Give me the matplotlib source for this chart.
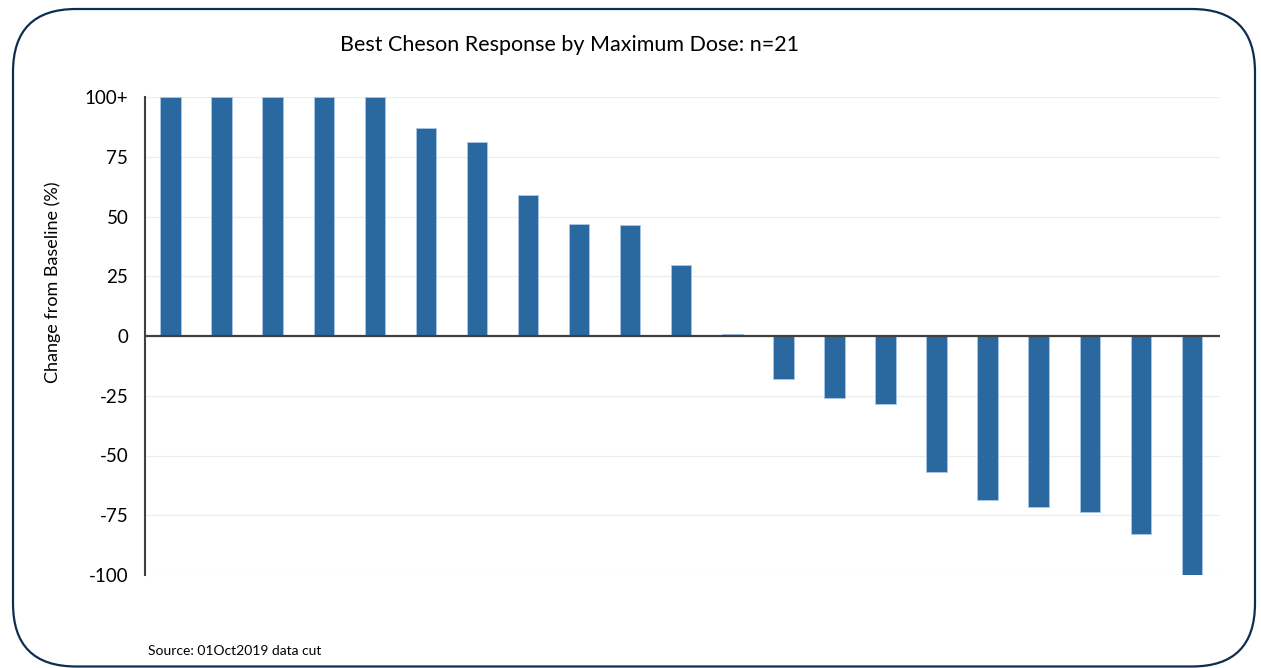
import matplotlib
matplotlib.use("Agg")
import matplotlib.pyplot as plt
from matplotlib.patches import FancyBboxPatch
import numpy as np

plt.rcParams['font.family'] = ['Lato', 'DejaVu Sans']

# best change from baseline per patient (capped at 100)
patients = list(range(1, 22))
change = [100, 100, 100, 100, 100, 87, 81, 59, 47, 46.5, 29.5, 1,
          -18, -26, -28.5, -57, -68.5, -71.5, -73.5, -83, -100]
yticks = [-100, -75, -50, -25, 0, 25, 50, 75, 100]
ytick_labels = ['-100', '-75', '-50', '-25', '0', '25', '50', '75', '100+']

title = 'Best Cheson Response by Maximum Dose: n=21'
ylabel = 'Change from Baseline (%)'
source = 'Source: 01Oct2019 data cut'

bar_color = '#2A69A0'
edge_color = '#A9C8E8'

fig = plt.figure(figsize=(12.61, 6.68), dpi=100)

# rounded frame around the whole chart
frame = FancyBboxPatch((13 / 1261, 1.5 / 668), 1242 / 1261, 657.5 / 668,
                       boxstyle='round,pad=0,rounding_size=0.05',
                       transform=fig.transFigure, fill=False,
                       edgecolor='#0E2E50', linewidth=1.6,
                       mutation_aspect=1261 / 668)
fig.patches.append(frame)

ax = fig.add_axes([145 / 1261, 93 / 668, 1075 / 1261, 478 / 668])
x = np.arange(len(patients))
ax.bar(x, change, width=0.4, color=bar_color, edgecolor=edge_color,
       linewidth=0.6, zorder=3)

ax.set_xlim(-0.5, len(patients) - 0.45)
ax.set_ylim(-100, 100)
ax.set_yticks(yticks)
ax.set_yticklabels(ytick_labels, fontsize=13.5)
ax.set_xticks([])
ax.grid(axis='y', color='#EDEDED', linewidth=0.9, zorder=0)
ax.axhline(0, color='#404040', linewidth=1.6, zorder=4)

for side in ['top', 'right', 'bottom']:
    ax.spines[side].set_visible(False)
ax.spines['left'].set_color('#404040')
ax.spines['left'].set_linewidth(1.5)
ax.tick_params(axis='y', length=0, pad=12, colors='black')

# y label sits a bit above the axes centre in the original
fig.text(53 / 1261, 1 - 282 / 668, ylabel, rotation=90, ha='center',
         va='center', fontsize=13)

fig.text(570 / 1261, 1 - 45 / 668, title, ha='center', va='center', fontsize=15.5)
fig.text(148 / 1261, 1 - 651 / 668, source, ha='left', va='center', fontsize=10)

fig.savefig('out.png', dpi=100)
